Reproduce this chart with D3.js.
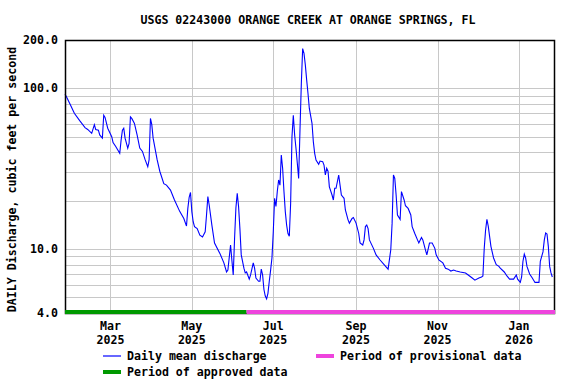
<!DOCTYPE html>
<html>
<head>
<meta charset="utf-8">
<script src="https://cdn.jsdelivr.net/npm/d3@7"></script>
<style>
  body { margin: 0; background: #fff; }
  text { font-family: 'DejaVu Sans Mono', monospace; font-weight: bold; font-size: 11.6px; fill: #000; }
</style>
</head>
<body>
<div class="chart"></div>
<script>
let width = 576, height = 384;

// daily mean discharge, cfs
let dates = ['2025-01-26','2025-01-27','2025-01-30','2025-02-02','2025-02-06','2025-02-10','2025-02-12','2025-02-15','2025-02-17','2025-02-18',
    '2025-02-20','2025-02-21','2025-02-23','2025-02-24','2025-02-25','2025-02-27','2025-03-02','2025-03-03','2025-03-05','2025-03-08',
    '2025-03-09','2025-03-10','2025-03-11','2025-03-12','2025-03-14','2025-03-15','2025-03-16','2025-03-17','2025-03-19','2025-03-21',
    '2025-03-23','2025-03-25','2025-03-27','2025-03-29','2025-03-30','2025-03-31','2025-04-01','2025-04-02','2025-04-05','2025-04-07',
    '2025-04-10','2025-04-12','2025-04-15','2025-04-18','2025-04-22','2025-04-25','2025-04-27','2025-04-28','2025-04-29','2025-04-30',
    '2025-05-01','2025-05-02','2025-05-03','2025-05-05','2025-05-07','2025-05-09','2025-05-11','2025-05-12','2025-05-13','2025-05-14',
    '2025-05-16','2025-05-18','2025-05-22','2025-05-25','2025-05-27','2025-05-28','2025-05-30','2025-05-31','2025-06-01','2025-06-02',
    '2025-06-03','2025-06-04','2025-06-05','2025-06-06','2025-06-07','2025-06-09','2025-06-10','2025-06-11','2025-06-13','2025-06-14',
    '2025-06-16','2025-06-17','2025-06-18','2025-06-20','2025-06-21','2025-06-22','2025-06-23','2025-06-24','2025-06-25','2025-06-26',
    '2025-06-27','2025-06-28','2025-06-29','2025-06-30','2025-07-01','2025-07-02','2025-07-03','2025-07-04','2025-07-05','2025-07-06',
    '2025-07-07','2025-07-08','2025-07-09','2025-07-10','2025-07-11','2025-07-12','2025-07-13','2025-07-14','2025-07-15','2025-07-16',
    '2025-07-17','2025-07-18','2025-07-19','2025-07-20','2025-07-21','2025-07-22','2025-07-23','2025-07-24','2025-07-25','2025-07-26',
    '2025-07-27','2025-07-28','2025-07-30','2025-07-31','2025-08-01','2025-08-02','2025-08-04','2025-08-05','2025-08-07','2025-08-08',
    '2025-08-09','2025-08-10','2025-08-11','2025-08-12','2025-08-14','2025-08-15','2025-08-16','2025-08-17','2025-08-19','2025-08-20',
    '2025-08-21','2025-08-23','2025-08-24','2025-08-26','2025-08-27','2025-08-29','2025-08-30','2025-09-01','2025-09-03','2025-09-04',
    '2025-09-06','2025-09-07','2025-09-08','2025-09-09','2025-09-10','2025-09-11','2025-09-14','2025-09-16','2025-09-19','2025-09-22',
    '2025-09-25','2025-09-27','2025-09-28','2025-09-29','2025-09-30','2025-10-01','2025-10-02','2025-10-03','2025-10-04','2025-10-05',
    '2025-10-07','2025-10-08','2025-10-10','2025-10-12','2025-10-13','2025-10-15','2025-10-17','2025-10-18','2025-10-20','2025-10-21',
    '2025-10-23','2025-10-24','2025-10-26','2025-10-28','2025-10-30','2025-10-31','2025-11-02','2025-11-05','2025-11-07','2025-11-09',
    '2025-11-11','2025-11-13','2025-11-15','2025-11-18','2025-11-22','2025-11-24','2025-11-27','2025-11-29','2025-12-02','2025-12-04',
    '2025-12-05','2025-12-06','2025-12-07','2025-12-08','2025-12-09','2025-12-11','2025-12-13','2025-12-15','2025-12-17','2025-12-18',
    '2025-12-21','2025-12-23','2025-12-25','2025-12-28','2025-12-30','2025-12-31','2026-01-02','2026-01-03','2026-01-04','2026-01-05',
    '2026-01-06','2026-01-07','2026-01-09','2026-01-11','2026-01-13','2026-01-16','2026-01-17','2026-01-19','2026-01-20','2026-01-21',
    '2026-01-22','2026-01-23','2026-01-24','2026-01-25','2026-01-26'];
let discharge = [92, 89, 79, 70, 63, 57, 55.5, 52.5, 59.5, 55.5,
    55, 51.3, 49, 68, 66, 56.5, 50, 46, 43.5, 39.5,
    47.5, 55, 56.5, 49, 42.5, 45.5, 66.5, 65, 60.5, 51.3,
    42.5, 40.5, 36, 32.5, 36, 65, 59.5, 49, 36, 30.5,
    25.5, 25, 23.3, 20.2, 17.1, 15.5, 13.9, 17.9, 21, 22.5,
    17.1, 14.8, 13.8, 13.4, 12.2, 11.9, 12.8, 16.3, 21.2, 18.8,
    14.1, 10.9, 9.4, 8.2, 7.2, 7.4, 10.6, 8.5, 6.9, 11.6,
    18, 22.2, 18.4, 13.4, 9.2, 7.6, 7.1, 7.2, 6.5, 6.9,
    8.2, 7.6, 6.6, 6.3, 6.3, 7.5, 6.9, 5.6, 5.1, 4.9,
    5.3, 6.3, 7.4, 8.8, 12.8, 20.7, 18.4, 22.8, 26.9, 25,
    38.5, 31.8, 22.8, 17.1, 14.1, 12.5, 12, 19.3, 50, 68,
    51.3, 42.4, 34.2, 27.5, 55, 107, 177, 165, 140, 113,
    93, 75, 60.6, 46.5, 39.4, 35.8, 33.7, 35.3, 35, 33.3,
    28.9, 31.8, 30.5, 24.4, 21.7, 20.2, 23.9, 23.9, 28.9, 25,
    21.7, 20.7, 17.5, 15.2, 14.5, 15.5, 15.7, 14.5, 12.5, 10.9,
    10.6, 11.4, 13.8, 14.1, 13.4, 11.4, 10.1, 9.2, 8.55, 8.0,
    7.5, 9.9, 14.5, 28.9, 27.5, 21.7, 16.3, 15.8, 15.3, 22.8,
    20.2, 18.6, 17.9, 16.3, 13.8, 12.5, 11.4, 10.9, 11.8, 11.4,
    9.85, 9.2, 10.9, 10.9, 10.1, 9.2, 8.55, 8.2, 7.6, 7.5,
    7.3, 7.4, 7.3, 7.2, 7.1, 6.9, 6.6, 6.4, 6.6, 6.7,
    6.8, 10.1, 13.1, 15.3, 13.9, 10.4, 8.8, 8.0, 7.8, 7.6,
    7.2, 6.8, 6.5, 6.5, 6.9, 6.5, 6.2, 6.7, 8.4, 9.3,
    8.8, 7.8, 7.0, 6.6, 6.2, 6.2, 8.4, 9.6, 11.4, 12.6,
    12.4, 10.4, 7.8, 7.1, 6.7];

let y_labels = [4, 10, 100, 200];
let x_ticks = ['2025-03-01', '2025-05-01', '2025-07-01', '2025-09-01', '2025-11-01', '2026-01-01'];
let periods = [
    {name: 'Period of approved data', start: '2025-01-26', end: '2025-06-11', color: '#009900'},
    {name: 'Period of provisional data', start: '2025-06-11', end: '2026-01-28', color: '#ee44dd'}
];
let date_range = ['2025-01-26', '2026-01-28'];

let parse = d3.timeParse('%Y-%m-%d');
let data = dates.map((d, i) => ({date: parse(d), value: discharge[i]}));

let padding = {left: 65, right: 21, top: 40, bottom: 71};
let plot_bottom = height - padding.bottom;

let svg = d3.select('.chart')
    .append('svg')
    .attr('width', width)
    .attr('height', height);

let x = d3.scaleTime()
    .domain(date_range.map(parse))
    .range([padding.left, width - padding.right]);
let y = d3.scaleLog()
    .domain([4, 200])
    .range([plot_bottom, padding.top]);

// grid
let grid = svg.append('g').attr('stroke', '#c8c8c8').attr('stroke-width', 1).attr('shape-rendering', 'crispEdges');
grid.selectAll('.hg')
    .data(y.ticks().filter(v => v > 4 && v < 200))
    .enter().append('line')
    .attr('x1', padding.left).attr('x2', width - padding.right)
    .attr('y1', d => Math.round(y(d)) + 0.5).attr('y2', d => Math.round(y(d)) + 0.5);
grid.selectAll('.vg')
    .data(x_ticks.map(parse))
    .enter().append('line')
    .attr('x1', d => Math.round(x(d)) + 0.5).attr('x2', d => Math.round(x(d)) + 0.5)
    .attr('y1', padding.top).attr('y2', plot_bottom);

// discharge line
svg.append('path')
    .datum(data)
    .attr('fill', 'none')
    .attr('stroke', '#0000ff')
    .attr('stroke-width', 1.1)
    .attr('d', d3.line().x(d => x(d.date)).y(d => y(d.value)));

// frame
svg.append('rect')
    .attr('x', padding.left + 0.5).attr('y', padding.top + 0.5)
    .attr('width', width - padding.left - padding.right - 1)
    .attr('height', plot_bottom - padding.top)
    .attr('fill', 'none').attr('stroke', '#000').attr('stroke-width', 1.5);

// period bars
svg.selectAll('.period')
    .data(periods)
    .enter().append('rect')
    .attr('x', d => x(parse(d.start)))
    .attr('width', d => x(parse(d.end)) - x(parse(d.start)))
    .attr('y', plot_bottom - 3)
    .attr('height', 4)
    .attr('fill', d => d.color);

// y labels
svg.selectAll('.ylab')
    .data(y_labels)
    .enter().append('text')
    .attr('x', padding.left - 7)
    .attr('y', d => y(d) + 4)
    .attr('text-anchor', 'end')
    .text(d => d3.format('.1f')(d));

// x labels
let xl = svg.selectAll('.xlab')
    .data(x_ticks.map(parse))
    .enter().append('text')
    .attr('text-anchor', 'middle')
    .attr('transform', d => `translate(${x(d)}, ${plot_bottom + 17})`);
xl.append('tspan').attr('x', 0).attr('dy', 0).text(d3.timeFormat('%b'));
xl.append('tspan').attr('x', 0).attr('dy', 13.5).text(d3.timeFormat('%Y'));

// title
svg.append('text')
    .attr('x', 308)
    .attr('y', 24)
    .attr('text-anchor', 'middle')
    .text('USGS 02243000 ORANGE CREEK AT ORANGE SPRINGS, FL');

// y axis label
svg.append('text')
    .attr('transform', `translate(16, ${(padding.top + plot_bottom) / 2 + 3}) rotate(-90)`)
    .attr('text-anchor', 'middle')
    .text('DAILY Discharge, cubic feet per second');

// legend
let legend = [
    {name: 'Daily mean discharge', color: '#0000ff', w: 1.2, lx: 103, ly: 356},
    {name: periods[1].name, color: periods[1].color, w: 4, lx: 316, ly: 356},
    {name: periods[0].name, color: periods[0].color, w: 4, lx: 103, ly: 372}
];
let lg = svg.selectAll('.legend')
    .data(legend)
    .enter().append('g')
    .attr('transform', d => `translate(${d.lx}, ${d.ly})`);
lg.append('line')
    .attr('x1', 0).attr('x2', 18)
    .attr('stroke', d => d.color)
    .attr('stroke-width', d => d.w);
lg.append('text')
    .attr('x', 24)
    .attr('y', 4)
    .text(d => d.name);
</script>
</body>
</html>
